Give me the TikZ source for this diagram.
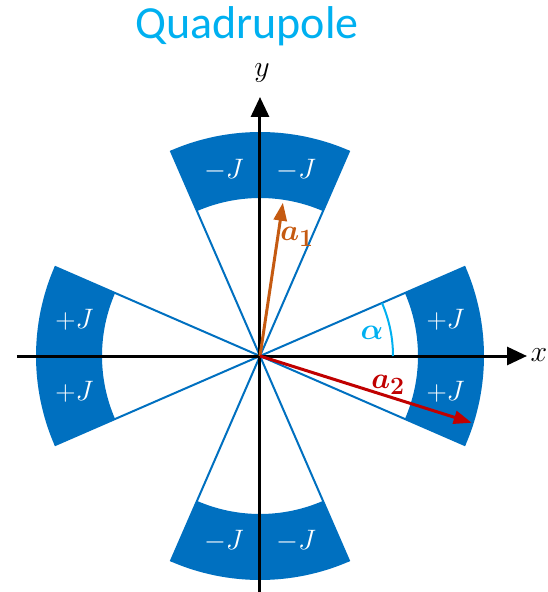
\documentclass[tikz,border=0pt]{standalone}
\usepackage{fontspec}
\setmainfont{Carlito}
\usepackage{amsmath,bm,graphicx}
\definecolor{qblue}{RGB}{0,112,192}
\definecolor{qcyan}{RGB}{0,176,240}
\definecolor{qorange}{RGB}{197,90,17}
\definecolor{qred}{RGB}{192,0,0}
\usetikzlibrary{arrows.meta}
\newcommand{\qmath}[2]{\scalebox{#1}{$#2$}}

\begin{document}
\begin{tikzpicture}[x=1pt,y=1pt,
    coil/.style={fill=qblue},
    edge/.style={qblue,line width=2pt},
    curlab/.style={text=white,font=\fontsize{24.88}{25}\selectfont},
    axlab/.style={font=\fontsize{24.88}{25}\selectfont},
    axis/.style={line width=3pt,-{Triangle[length=20pt,width=18pt]}},
    vec/.style={line width=3pt,-{Triangle[length=18pt,width=13pt]}}]
  \useasboundingbox (-260,-236) rectangle (288,356);

  %% Title
  \node[text=qcyan,font=\fontsize{46}{46}\selectfont,anchor=base] (title) at (-13,317) {Quadrupole};

  %% Four poles: edge lines, coil sectors, current labels
  \foreach \ang/\sgn in {0/+,90/-,180/+,270/-}{
    \draw[edge] (0,0) -- ({\ang-23.5}:224);
    \draw[edge] (0,0) -- ({\ang+23.5}:224);
    \fill[coil] ({\ang-23.5}:158) arc[start angle=\ang-23.5,end angle=\ang+23.5,radius=158]
      -- ({\ang+23.5}:224) arc[start angle=\ang+23.5,end angle=\ang-23.5,radius=224] -- cycle;
    \node[curlab] (J-\ang-a) at ({\ang+11}:189) {\qmath{1.13}{\sgn J}};
    \node[curlab] (J-\ang-b) at ({\ang-11}:189) {\qmath{1.13}{\sgn J}};
  }

  %% Axes
  \coordinate (O) at (0,0);
  \coordinate (xs) at (-243,0);
  \coordinate (xe) at (267,0);
  \coordinate (ys) at (0,-240);
  \coordinate (ye) at (0,259);
  \draw[axis] (xs) -- (xe);
  \draw[axis] (ys) -- (ye);
  \node[axlab] (xlab) at (279,1) {\qmath{1.2}{x}};
  \node[axlab] (ylab) at (2,283) {\qmath{1.2}{y}};

  %% Angle alpha
  \draw[qcyan,line width=2pt] (133,0) arc[start angle=0,end angle=23.5,radius=133];
  \node[axlab,text=qcyan] (alpha) at (112,23) {\qmath{1.2}{\bm{\alpha}}};

  %% Vectors a1 and a2
  \coordinate (a1) at (81.5:155);
  \coordinate (a2) at (-17.5:222);
  \draw[vec,qorange] (O) -- (a1);
  \draw[vec,qred] (O) -- (a2);
  \node[axlab,text=qorange] (a1lab) at (37,119) {\qmath{1.2}{\bm{a_1}}};
  \node[axlab,text=qred] (a2lab) at (128,-29) {\qmath{1.2}{\bm{a_2}}};
\end{tikzpicture}
\end{document}
